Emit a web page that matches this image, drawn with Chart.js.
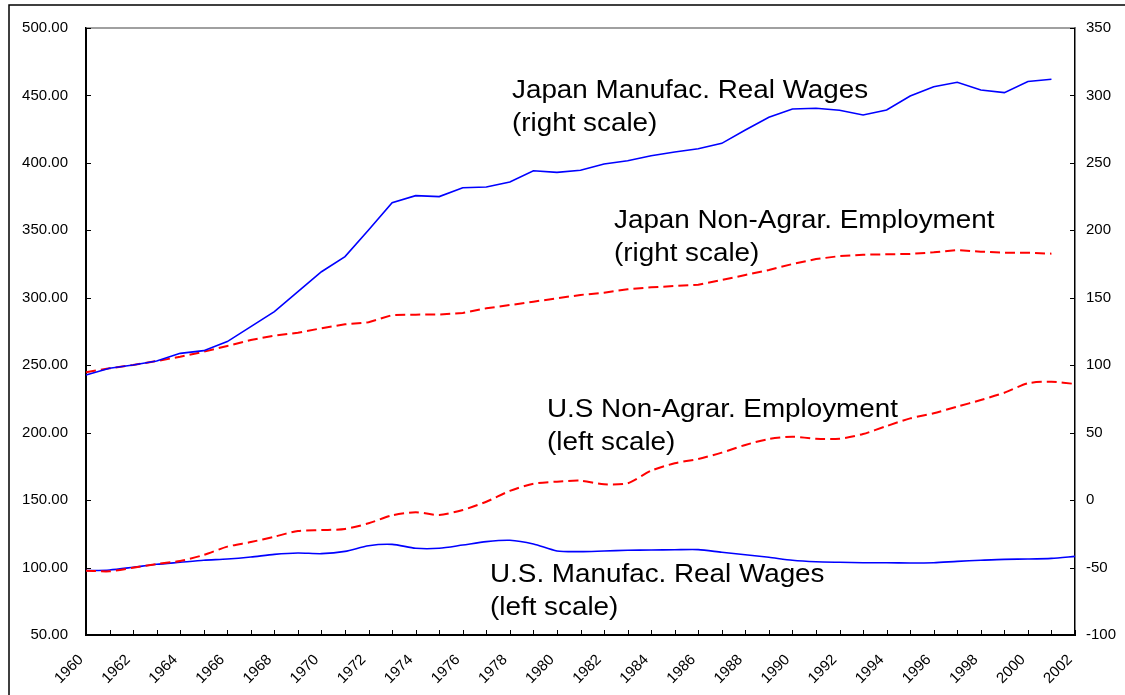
<!DOCTYPE html>
<html><head><meta charset="utf-8">
<script src="https://cdn.jsdelivr.net/npm/chart.js@4.4.1/dist/chart.umd.min.js"></script>
<style>html,body{margin:0;padding:0;background:#fff}#wrap{width:1125px;height:695px;position:relative}</style>
</head><body><div id="wrap"><canvas id="c" width="1125" height="695"></canvas></div>
<script>
const years = ['1960','1961','1962','1963','1964','1965','1966','1967','1968','1969','1970','1971','1972','1973','1974','1975','1976','1977','1978','1979','1980','1981','1982','1983','1984','1985','1986','1987','1988','1989','1990','1991','1992','1993','1994','1995','1996','1997','1998','1999','2000','2001','2002'];
// left scale
const usWages = [97.7,98.2,100.2,102.4,103.9,105.4,106.3,107.8,109.8,110.8, 110.3,112.0,116.2,117.2,114.3,114.3,116.7,119.2,120.2,117.5, 112.3,111.8,112.3,112.8,113.0,113.2,113.3,111.3,109.5,107.6, 105.4,104.3,103.9,103.6,103.6,103.4,103.6,104.6,105.4,106.1, 106.3,106.8,108.3];
const usEmployment = [97.7,97.2,99.9,102.6,104.9,109.3,115.5,118.9,122.9,127.1, 127.8,128.6,132.8,138.7,141.0,139.0,142.7,148.8,156.8,162.2, 163.7,164.4,161.7,162.5,171.8,177.3,180.5,185.2,190.9,195.3, 197.0,195.5,195.5,199.0,204.9,210.6,214.4,219.3,224.2,229.6, 236.6,237.8,236.1];
// right scale
const japanWages = [92.7,97.7,100.2,103.1,108.8,110.8,117.5,128.6,139.7,154.5, 169.3,180.5,200.2,220.4,225.7,225.0,231.6,232.1,235.8,244.2, 243.0,244.5,249.2,251.6,255.3,258.1,260.5,264.5,274.4,283.8, 290.0,290.5,289.0,285.5,289.2,299.6,306.5,309.8,304.0,302.1, 310.3,312.0,null];
const japanEmployment = [94.8,97.7,100.2,103.1,106.3,110.0,114.3,118.7,121.9,124.1, 127.4,130.3,131.8,137.2,137.5,137.6,138.7,142.2,144.6,147.1, 149.6,152.1,153.8,156.3,157.8,158.7,159.7,163.2,166.9,170.6, 175.0,178.7,180.9,181.9,182.2,182.5,183.7,185.4,184.2,183.4, 183.4,182.7,null];
const leftTicks = {min:50, max:500, step:50};
const rightTicks = {min:-100, max:350, step:50};
const notes = [
  {lines:['Japan Manufac. Real Wages','(right scale)'], x:512, y:98},
  {lines:['Japan Non-Agrar. Employment','(right scale)'], x:614, y:228},
  {lines:['U.S Non-Agrar. Employment','(left scale)'], x:547, y:417},
  {lines:['U.S. Manufac. Real Wages','(left scale)'], x:490, y:582}
];

const FONT = '"Liberation Sans", Arial, Helvetica, sans-serif';
Chart.defaults.font.family = FONT;
Chart.defaults.color = '#000';

const decor = {
  id:'decor',
  afterDraw(chart){
    const ctx = chart.ctx, a = chart.chartArea;
    const sx = chart.scales.x, sy = chart.scales.y, sy1 = chart.scales.y1;
    ctx.save();
    // outer frame
    ctx.strokeStyle = '#000'; ctx.lineWidth = 1.5;
    ctx.strokeRect(9, 5, 1300, 900);
    // top border
    ctx.strokeStyle = '#808080'; ctx.lineWidth = 1.5;
    ctx.beginPath(); ctx.moveTo(a.left, a.top); ctx.lineTo(a.right, a.top); ctx.stroke();
    // inward ticks
    ctx.strokeStyle = '#000'; ctx.lineWidth = 1;
    ctx.beginPath();
    sx.ticks.forEach((t,i)=>{ const p = Math.round(sx.getPixelForTick(i))+0.5; ctx.moveTo(p, a.bottom); ctx.lineTo(p, a.bottom-5); });
    sy.ticks.forEach((t,i)=>{ const p = Math.round(sy.getPixelForTick(i))+0.5; ctx.moveTo(a.left, p); ctx.lineTo(a.left+5, p); });
    sy1.ticks.forEach((t,i)=>{ const p = Math.round(sy1.getPixelForTick(i))+0.5; ctx.moveTo(a.right, p); ctx.lineTo(a.right-5, p); });
    ctx.stroke();
    // annotations
    ctx.fillStyle = '#000';
    ctx.font = '26px ' + FONT;
    ctx.textBaseline = 'alphabetic'; ctx.textAlign = 'left';
    notes.forEach(n=>{
      n.lines.forEach((l,k)=>{
        ctx.save();
        ctx.translate(n.x, n.y + k*33);
        ctx.scale(1.07,1);
        ctx.fillText(l, 0, 0);
        ctx.restore();
      });
    });
    ctx.restore();
  }
};

new Chart(document.getElementById('c'), {
  type:'line',
  data:{
    labels: years,
    datasets:[
      {label:'Japan Manufac. Real Wages', data:japanWages, yAxisID:'y1', borderColor:'#0000FF', borderWidth:1.6, pointRadius:0, tension:0, spanGaps:false},
      {label:'Japan Non-Agrar. Employment', data:japanEmployment, yAxisID:'y1', borderColor:'#FF0000', borderWidth:2, borderDash:[10,5], pointRadius:0, tension:0},
      {label:'U.S Non-Agrar. Employment', data:usEmployment, yAxisID:'y', borderColor:'#FF0000', borderWidth:2, borderDash:[10,5], pointRadius:0, tension:0.25},
      {label:'U.S. Manufac. Real Wages', data:usWages, yAxisID:'y', borderColor:'#0000FF', borderWidth:1.6, pointRadius:0, tension:0.25}
    ]
  },
  options:{
    responsive:false, animation:false, devicePixelRatio:1,
    layout:{padding:{top:28,left:0,right:0,bottom:0}},
    plugins:{legend:{display:false}, tooltip:{enabled:false}},
    scales:{
      x:{type:'category', offset:false,
         grid:{display:true, drawOnChartArea:false, drawTicks:false},
         border:{display:true, color:'#000', width:2},
         ticks:{autoSkip:false, maxRotation:45, minRotation:45, padding:16, labelOffset:-5, font:{size:15}, color:'#000',
           callback:function(v,i){ return i%2===0 ? years[i] : ''; }},
         afterFit(s){ s.height = 60; }},
      y:{position:'left', min:leftTicks.min, max:leftTicks.max,
         grid:{display:true, drawOnChartArea:false, drawTicks:false},
         border:{display:true, color:'#000', width:2},
         ticks:{stepSize:leftTicks.step, padding:18, font:{size:15}, color:'#000', callback:v=>Number(v).toFixed(2)},
         afterFit(s){ s.width = 86; }},
      y1:{position:'right', min:rightTicks.min, max:rightTicks.max,
         grid:{display:true, drawOnChartArea:false, drawTicks:false},
         border:{display:true, color:'#000', width:1.5},
         ticks:{stepSize:rightTicks.step, padding:11, font:{size:15}, color:'#000'},
         afterFit(s){ s.width = 50; }}
    }
  },
  plugins:[decor]
});
</script></body></html>
